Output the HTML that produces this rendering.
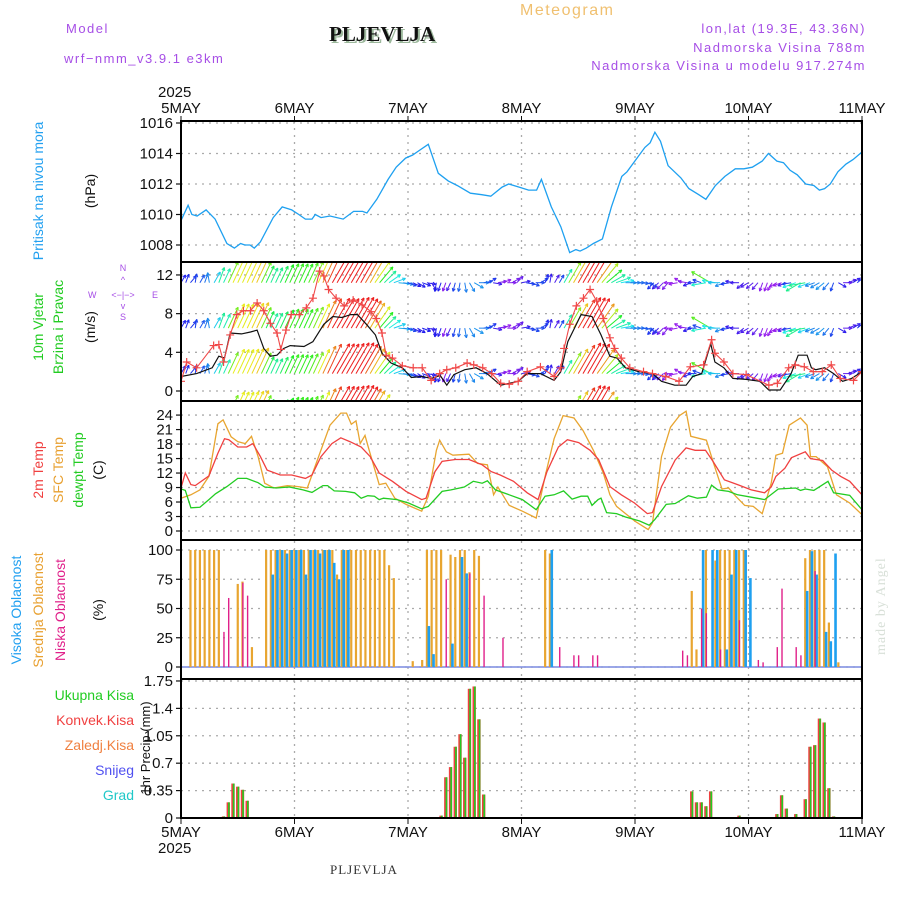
<!DOCTYPE html>
<html><head><meta charset="utf-8">
<style>
html,body{margin:0;padding:0;background:#fff;}
svg{display:block;font-family:"Liberation Sans",sans-serif;}
.p{fill:#a64ee6;font-size:13px;letter-spacing:1.5px;}
.tick{font-size:15px;fill:#111;}
</style></head>
<body>
<svg id="chart" width="900" height="900" viewBox="0 0 900 900" xmlns="http://www.w3.org/2000/svg">
<g id="titles">
<text class="p" x="66" y="33">Model</text>
<text class="p" x="64" y="63">wrf−nmm_v3.9.1 e3km</text>
<text x="331" y="43" font-family="Liberation Serif" font-weight="bold" font-size="21" fill="#9cb89c">PLJEVLJA</text>
<text x="329" y="41" font-family="Liberation Serif" font-weight="bold" font-size="21" fill="#111">PLJEVLJA</text>
<text x="520" y="15" font-size="16" fill="#f0c070" letter-spacing="1.5">Meteogram</text>
<text class="p" x="866" y="33" text-anchor="end">lon,lat (19.3E, 43.36N)</text>
<text class="p" x="866" y="52" text-anchor="end">Nadmorska Visina 788m</text>
<text class="p" x="866" y="70" text-anchor="end">Nadmorska Visina u modelu 917.274m</text>
<text x="330" y="874" font-family="Liberation Serif" font-size="13" fill="#333" letter-spacing="1">PLJEVLJA</text>
<text transform="translate(885,655) rotate(-90)" font-family="Liberation Serif" font-size="14" fill="#d8e0d8" letter-spacing="1">made by Angel</text>
</g>
<g id="ylabels" font-size="14">
<text transform="translate(43,191) rotate(-90)" text-anchor="middle" fill="#22a0f0">Pritisak na nivou mora</text>
<text transform="translate(95,191) rotate(-90)" text-anchor="middle" fill="#111">(hPa)</text>
<text transform="translate(43,327) rotate(-90)" text-anchor="middle" fill="#22cc22">10m Vjetar</text>
<text transform="translate(63,327) rotate(-90)" text-anchor="middle" fill="#22cc22">Brzina i Pravac</text>
<text transform="translate(95,327) rotate(-90)" text-anchor="middle" fill="#111">(m/s)</text>
<g fill="#a64ee6" font-size="9">
<text x="123" y="271" text-anchor="middle">N</text><text x="123" y="320" text-anchor="middle">S</text>
<text x="88" y="298">W</text><text x="152" y="298">E</text>
<text x="123" y="298" text-anchor="middle">&lt;−|−&gt;</text>
<text x="123" y="283" text-anchor="middle">^</text><text x="123" y="309" text-anchor="middle">v</text>
</g>
<text transform="translate(43,470) rotate(-90)" text-anchor="middle" fill="#f04040">2m Temp</text>
<text transform="translate(63,470) rotate(-90)" text-anchor="middle" fill="#e8a030">SFC Temp</text>
<text transform="translate(83,470) rotate(-90)" text-anchor="middle" fill="#22cc22">dewpt Temp</text>
<text transform="translate(103,470) rotate(-90)" text-anchor="middle" fill="#111">(C)</text>
<text transform="translate(21,610) rotate(-90)" text-anchor="middle" fill="#22a0f0">Visoka Oblacnost</text>
<text transform="translate(43,610) rotate(-90)" text-anchor="middle" fill="#e8a030">Srednja Oblacnost</text>
<text transform="translate(65,610) rotate(-90)" text-anchor="middle" fill="#e0208a">Niska Oblacnost</text>
<text transform="translate(103,610) rotate(-90)" text-anchor="middle" fill="#111">(%)</text>
<text transform="translate(150,748) rotate(-90)" text-anchor="middle" font-size="13" fill="#111">1hr Precip (mm)</text>
<text x="134" y="700" text-anchor="end" fill="#22cc22">Ukupna Kisa</text>
<text x="134" y="725" text-anchor="end" fill="#f04040">Konvek.Kisa</text>
<text x="134" y="750" text-anchor="end" fill="#f08040">Zaledj.Kisa</text>
<text x="134" y="775" text-anchor="end" fill="#5050f0">Snijeg</text>
<text x="134" y="800" text-anchor="end" fill="#20c8c8">Grad</text>
</g>
<g id="plot"></g>
</svg>
<script>
// ---- data ----
const dayLabels=["5MAY","6MAY","7MAY","8MAY","9MAY","10MAY","11MAY"];
const presTicks=[1008,1010,1012,1014,1016];
const windTicks=[0,4,8,12];
const tempTicks=[0,3,6,9,12,15,18,21,24];
const cloudTicks=[0,25,50,75,100];
const precipTicks=[0,0.35,0.7,1.05,1.4,1.75];
const presHours=[0,1.5,2.3,3.4,5.3,7.2,9.7,11.3,12.6,13.5,14.6,15.5,16.8,19.5,21.4,23.4,24.9,26.3,27.7,28.4,29.6,31.5,34.3,36.5,38.4,39.3,41.4,43.8,45.5,47.5,49,50.4,52.3,54.4,56.5,58.4,61.2,63.6,65.5,67.9,69.3,71.5,73.5,75.2,76.2,78.3,80.3,82.2,83.5,84.4,85.7,87.2,89.1,91,93.2,94.3,96.2,98.1,99.2,100.2,101.4,103,105.7,107.4,109.5,111,113,115,117.2,119,120.8,122.9,124.2,126,127.4,128.8,130.3,132.1,133.8,135,136.1,137.3,138.9,140.6,142.1,144];
const presVals=[1009.6,1010.6,1010.0,1009.9,1010.3,1009.7,1008.1,1007.8,1008.1,1008.0,1008.0,1007.8,1008.2,1009.8,1010.5,1010.3,1010.0,1009.7,1009.7,1010.0,1009.8,1009.9,1009.7,1010.2,1010.2,1010.1,1011.0,1012.3,1013.1,1013.7,1013.9,1014.2,1014.6,1012.7,1012.2,1011.9,1011.4,1011.3,1011.2,1011.8,1012.0,1011.8,1011.6,1011.6,1012.3,1010.5,1009.2,1007.5,1007.7,1007.6,1007.8,1008.1,1008.4,1010.5,1012.5,1012.8,1013.6,1014.4,1014.7,1015.4,1014.8,1013.2,1012.4,1011.7,1011.3,1011.0,1011.9,1012.5,1013.0,1013.0,1013.1,1013.5,1014.0,1013.5,1013.4,1012.9,1012.6,1012.0,1011.9,1011.6,1011.7,1012.0,1012.8,1013.3,1013.6,1014.1];
const t2Hours=[0,0.9,2.1,3,5.9,7.8,9.2,10.1,12,13.9,15.2,16.8,18.2,21,23.4,26.3,27.7,29.6,31.9,33.8,35.7,38.1,40,41.9,44.7,47.6,50.9,51.8,53.7,55.2,58,60.9,63.7,65.6,67.5,70.3,73.2,75.5,77.4,79.8,81.7,84.1,86.5,88.3,90.7,93.1,95.9,98.6,99.7,101.6,104.5,106.8,108.7,110.9,112.5,114.9,117.7,120.6,123.4,124.8,125.8,127.7,129.1,132,133.1,135.7,137.6,139.5,141.4,144];
const t2Vals=[8.9,12,9.6,9.4,11.4,16.1,19.1,18.9,17.4,17.4,18.1,15.4,12.6,11.6,11.6,10.9,11.6,15.4,18.1,19.3,18.5,17.4,15.4,12,10.3,8.2,6.5,6.8,12.3,14.4,14.8,14.8,13.7,12.3,11.6,10.3,7.9,6.5,12.3,17.4,18.9,18.3,16.7,14.8,9.2,7.5,5.8,3.6,3.8,9.2,14.7,17.2,16.7,16.7,14.4,10.6,9.6,8.5,7.9,9.1,11.3,13,15.2,16.4,15,14.6,12.6,11.3,10.3,7.5];
const sfcHours=[0,2.1,4,5.9,7.8,8.9,10.6,12,13.6,14.9,16.3,17.7,19.6,22.5,24.8,26.7,29.1,31.5,33.8,35,36,37,37.9,38.9,39.8,41.9,43.3,45.2,47.6,50.9,52.3,54,54.7,56.1,57.5,60.9,62.7,64.8,66.1,67,69.4,72.2,75.1,77,78.9,80.8,83.1,85,87.2,89.3,90.7,92.1,95.9,98.8,99.7,101.6,103.5,105.4,106.8,107.8,111.1,112.5,114.4,115.8,117.3,119.2,121,122.9,124.8,125.8,127.2,128.6,131,132.4,133.1,134.3,136.7,138.6,141.4,144];
const sfcVals=[6.8,7.5,8.5,11.3,22.2,23,19.5,18.5,18.1,19.6,15.4,9.9,8.9,9.4,9.2,8.9,15.4,21.9,24.4,24.4,22.1,22.8,18.1,19.8,16.7,9.6,9.9,6.8,5.5,4.1,7.2,16.7,18.8,16.4,15.7,15.9,14,13.7,7.5,9.1,5.3,4.1,2.7,11.3,19.1,23.9,23.4,20.8,16.7,12,7.5,5.1,2.1,0.3,1.7,15.4,21.5,23.9,24.8,19.6,18.8,14.4,8.7,8.9,7.2,5.3,5.1,3.6,9.9,15.7,16.1,21.9,23.4,21.9,15.4,15.4,13.3,7.5,5.8,3.4];
const dewHours=[0,0.9,2.1,4,5.9,7.3,9.7,12,13.9,16.3,17.7,20.1,22.9,25.8,27.7,30,31,32.4,34.8,36.7,38.1,39.5,40.9,41.9,42.8,45.7,48.1,50.9,52.3,55.2,57.1,59.9,61.8,63.7,64.8,66.5,69.4,72.2,75.1,77,78.9,80.9,82.7,84.6,86,86.9,88.2,88.8,90,92.1,94,96.9,99,100.2,102.6,104.5,107.3,109.2,111.1,112.2,113.5,115.8,117.7,120.6,123.4,126.3,130,131,132,133.8,136.8,138,141.4,144];
const dewVals=[8.7,8.4,4.8,4.9,6.5,7.7,9.2,10.9,10.9,10,9.1,8.9,9.1,8.5,8,9.4,9.4,8.3,8.2,7.9,6.8,7.3,7.2,6.5,6.8,6.5,5.8,4.6,5.1,8.2,8.5,9.1,10.3,9.9,10.4,8.5,7.5,6.5,4.4,7.2,7.5,8.3,6.6,7.2,7.2,5.3,6.5,6.8,3.8,3.6,2.9,2.1,1.2,2.4,5.5,5.7,7.3,6.8,7,9.5,8.5,8.2,7.5,7,6.5,8.7,8.9,8.4,8.7,8.4,10.3,7.9,7.4,4.4];
const spdHours=[0,3.3,6.6,8,9.2,10.4,12.8,14.7,16.1,17.5,18.9,20.3,21.7,23.1,26,27.9,30.2,32.1,34,35.9,37.3,39.2,41.1,42.5,44.4,46.8,48.7,51,52.9,54.8,56.2,57.7,60,62.4,64.7,67.6,69.4,71.3,73.2,76,78.9,80.3,81.8,83.2,84.6,86.9,88.8,90.7,92.2,94,96.8,99.7,101.6,104.4,106.8,108.2,110.1,112,112.9,114.8,116.7,119.5,122.4,124.3,126.7,129,130.5,132.4,133.3,134.2,136.1,138,139.9,141.8,144];
const spdVals=[1.5,1.8,2.4,3.6,3.4,6,5.9,6.1,6.3,4.4,3.6,3.7,4.4,4.7,4.6,5.1,6.9,7.7,7.6,7.9,7.9,6.9,5.8,3.9,2.9,2.4,1.4,1.5,1.3,1.6,0.6,1.7,2.2,2.4,1.8,0.6,0.8,1,1.8,1.8,1.1,2,5.1,6.5,7.9,7.7,5.8,3.6,3.4,2.4,2,1.8,1,0.6,0.6,1.5,1.8,4.9,3,2.4,1.3,1.2,1,0.1,0.1,1.8,3.7,3.7,2.4,2.2,2.4,1.8,1,1.3,2];
const gustHours=[0,1.2,3.3,6.9,8,9,10.4,11.8,13.2,14.7,16.1,17.5,18.9,20.3,21.1,22.2,23.3,25,26.5,27.9,29.3,30.2,31.2,32.8,34.5,36.4,38.3,40.2,41.3,42.5,43.4,44.7,46.8,49.1,51,52.9,54.7,56.2,58.1,60.5,61.9,63.8,65.7,67.6,69.4,71.3,73.2,76,78.9,80.3,81,82.2,83.6,85.1,86.5,87.9,89.3,90.7,91.7,93.1,94.9,97.8,99.7,102.5,105.3,107.7,110.5,112.2,112.9,114.8,116.7,119.5,124.3,126.1,128.5,129.9,131.8,133.7,135.6,137.5,139.4,142.2,144];
const gustVals=[1,3,2.4,4.7,4.8,3,5.8,7.9,8.3,8.3,9.1,8.3,7,6,4.3,6.3,7.9,7.9,8.6,9.6,12.4,11.9,10.5,9.6,8.8,9.4,8.9,8.2,7.5,6,3.7,3.4,2.6,2.4,2.4,1.1,1.8,2.2,2.4,2.9,2.7,2.4,1.8,0.8,0.7,1,2,2.5,1.5,2.4,4.4,6.9,8.8,9.6,10.5,9.3,7.5,5.5,4.4,3.4,2.4,2,1.8,1.5,1,2.5,2.7,5.3,3.9,3,1.8,1.7,0.6,0.8,2.4,2.7,2.5,2,2,2.7,1.3,1.1,2];
// wind direction (degrees the arrow points toward), one per hour 0..144
const windDir=[30,20,40,10,30,20,350,30,20,25,25,25,25,25,25,25,25,25,25,25,25,25,25,25,25,25,25,25,25,25,25,25,30,30,30,30,30,30,30,30,30,35,40,45,55,70,95,100,110,115,120,110,100,150,190,200,200,205,195,190,170,150,120,90,80,60,100,80,70,90,60,45,80,100,110,90,60,20,10,30,30,30,30,30,30,30,30,30,35,40,50,60,70,80,90,90,90,95,100,120,225,225,225,220,270,260,300,280,250,270,290,260,300,280,270,250,260,280,270,230,240,230,220,200,200,210,240,250,250,260,250,240,260,250,250,240,230,220,200,120,90,70,60,50,45];
const midHours=[2,3,4,5,6,7,8,12,13,15,18,19,20,21,22,23,24,25,26,27,28,29,30,31,32,33,34,35,36,37,38,39,40,41,42,43,44,45,49,51,52,53,54,55,57,58,59,60,61,62,63,77,78,108,109,111,113,114,115,116,117,118,119,132,133,134,135,136,137,139];
const midVals=[100,100,100,100,100,100,100,71,73,17,100,100,100,100,100,100,100,100,100,100,100,100,100,100,100,79,100,100,100,100,100,100,100,100,100,100,87,76,5,6,100,100,100,100,96,94,100,100,81,100,95,100,97,65,15,100,91,100,100,100,100,100,100,93,100,100,100,100,38,4];
const highHours=[19,20,21,22,23,24,25,26,27,28,29,30,31,32,33,34,35,52,53,57,59,60,78,110,112,113,115,116,117,119,120,132,133,134,136,137,138];
const highVals=[79,100,100,97,100,100,100,79,100,100,97,100,100,89,75,100,100,35,11,20,94,80,100,100,100,100,15,79,100,100,76,65,99,79,30,22,97];
const lowHours=[9,10,13,14,56,61,64,68,80,83,84,87,88,106,107,110,111,114,118,122,123,126,127,130,131,134];
const lowVals=[30,59,72,61,75,80,61,25,17,10,10,10,10,14,10,50,46,15,40,6,4,17,67,17,10,82];
const rainHours=[9,10,11,12,13,14,55,56,57,58,59,60,61,62,63,64,108,109,110,111,112,118,126,127,128,130,132,133,134,135,136,137,138];
const rainVals=[0.02,0.2,0.44,0.4,0.36,0.22,0.03,0.52,0.65,0.91,1.07,0.77,1.65,1.68,1.26,0.3,0.34,0.2,0.2,0.15,0.34,0.03,0.05,0.29,0.12,0.05,0.24,0.91,0.93,1.27,1.22,0.38,0.02];

// ---- scales ----
const X0=181,X1=862,HOURS=144;
const X=h=>X0+h*(X1-X0)/HOURS;
const Yp=v=>245-(v-1008)*15.25;
const Yw=v=>391-v*9.67;
const Yt=v=>531-v*4.83;
const Yc=v=>667-v*1.17;
const Yr=v=>818-v*78.3;
const panels=[{y0:121,y1:262,name:'pressure'},{y0:262,y1:401,name:'wind'},{y0:401,y1:540,name:'temperature'},{y0:540,y1:679,name:'cloud'},{y0:679,y1:818,name:'precip'}];

const NS='http://www.w3.org/2000/svg';
const root=document.getElementById('plot');
function mk(tag,attrs,parent){const e=document.createElementNS(NS,tag);for(const k in attrs)e.setAttribute(k,attrs[k]);(parent||root).appendChild(e);return e;}

const defs=mk('defs',{});
panels.forEach((p,i)=>{const c=mk('clipPath',{id:'clip'+i},defs);mk('rect',{x:X0,y:p.y0,width:X1-X0,height:p.y1-p.y0},c);});

function hgrid(ticks,scale,fmt,pi){
  const g=mk('g',{});
  
  
  ticks.forEach(t=>{
    const y=scale(t);
    mk('line',{x1:X0,x2:X1,y1:y,y2:y,stroke:'#aaa','stroke-width':1.3,'stroke-dasharray':'2,5'},g);
    mk('line',{x1:X0-5,x2:X0,y1:y,y2:y,stroke:'#111','stroke-width':1.2},g);
    const tx=mk('text',{x:X0-8,y:y+5,'text-anchor':'end','class':'tick'},g);
    tx.textContent=fmt(t);
  });
}
hgrid(presTicks,Yp,String,0);
hgrid(windTicks,Yw,String,1);
hgrid(tempTicks,Yt,String,2);
hgrid(cloudTicks,Yc,String,3);
hgrid(precipTicks,Yr,String,4);
const vg=mk('g',{});


dayLabels.forEach((d,i)=>{
  if(i===0||i===dayLabels.length-1)return;
  const x=X(i*24);
  mk('line',{x1:x,x2:x,y1:121,y2:818,stroke:'#aaa','stroke-width':1.3,'stroke-dasharray':'2,5'},vg);
});
const xl=mk('g',{});


dayLabels.forEach((d,i)=>{
  const x=X(i*24);
  let t=mk('text',{x:x,y:113,'text-anchor':'middle','class':'tick'},xl);t.textContent=d;
  t=mk('text',{x:x,y:837,'text-anchor':'middle','class':'tick'},xl);t.textContent=d;
  mk('line',{x1:x,x2:x,y1:116,y2:121,stroke:'#111'},xl);
  mk('line',{x1:x,x2:x,y1:818,y2:824,stroke:'#111'},xl);
});
let yr=mk('text',{x:158,y:97,'class':'tick'},xl);yr.textContent='2025';
yr=mk('text',{x:158,y:853,'class':'tick'},xl);yr.textContent='2025';

function line(hours,vals,scale,color,name,pi,w){
  const d=hours.map((h,i)=>(i?'L':'M')+X(h).toFixed(1)+','+scale(vals[i]).toFixed(1)).join('');
  const p=mk('path',{d:d,fill:'none',stroke:color,'stroke-width':w||1.3,'clip-path':'url(#clip'+pi+')'});
  
  
  return p;
}
line(presHours,presVals,Yp,'#1ea0f0','pressure-line',0);

function interp(hs,vs,h){for(let i=1;i<hs.length;i++){if(h<=hs[i]){const f=(h-hs[i-1])/(hs[i]-hs[i-1]);return vs[i-1]+f*(vs[i]-vs[i-1]);}}return vs[vs.length-1];}
const wg=mk('g',{'clip-path':'url(#clip1)'});


[11.2,6.5,1.8,-2.6].forEach(base=>{
  windDir.forEach((dir,h)=>{
    const s=interp(spdHours,spdVals,h);
    const len=Math.max(9,4.5*s);
    const a=dir*Math.PI/180;
    const x0=X(h),y0=Yw(base);
    const x1=x0+Math.sin(a)*len,y1=y0-Math.cos(a)*len;
    const hue=Math.max(0,Math.min(275,300-40*s));
    const col='hsl('+hue+',85%,52%)';
    const ar=mk('g',{},wg);
    
    
    mk('line',{x1:x0,y1:y0,x2:x1,y2:y1,stroke:col,'stroke-width':1},ar);
    const ha=3.5;
    [a+Math.PI-0.45,a+Math.PI+0.45].forEach(b=>{
      mk('line',{x1:x1,y1:y1,x2:x1+Math.sin(b)*ha,y2:y1-Math.cos(b)*ha,stroke:col,'stroke-width':1},ar);
    });
  });
});
line(spdHours,spdVals,Yw,'#111','wind-speed-line',1,1.2);
line(gustHours,gustVals,Yw,'#f04848','wind-gust-line',1,1.1);
const gg=mk('g',{'clip-path':'url(#clip1)'});


gustHours.forEach((h,i)=>{
  const x=X(h),y=Yw(gustVals[i]);
  mk('path',{d:`M${x-4},${y}H${x+4}M${x},${y-4}V${y+4}`,stroke:'#f04848','stroke-width':1.2},gg);
});

line(sfcHours,sfcVals,Yt,'#e8a530','sfc-temp-line',2);
line(t2Hours,t2Vals,Yt,'#f04040','temp-2m-line',2);
line(dewHours,dewVals,Yt,'#22cc22','dewpoint-line',2);

mk('line',{x1:X0,x2:X1,y1:667,y2:667,stroke:'#7a8ae0','stroke-width':1.5});
function bars(hours,vals,scale,color,w,off,name,pi){
  const g=mk('g',{'clip-path':'url(#clip'+pi+')'});
  
  
  hours.forEach((h,i)=>{
    const y=scale(vals[i]);
    const base=scale(0);
    const r=mk('rect',{x:X(h)+off,y:y,width:w,height:Math.max(0,base-y),fill:color},g);
    
    
  });
}
bars(midHours,midVals,Yc,'#e8a530',2.2,-1.1,'mid-cloud',3);
bars(highHours,highVals,Yc,'#1ea0f0',2.6,0.6,'high-cloud',3);
bars(lowHours,lowVals,Yc,'#e0208a',1.4,-0.3,'low-cloud',3);

bars(rainHours,rainVals,Yr,'#f04040',3.4,-1.7,'convective-rain',4);
bars(rainHours,rainVals,Yr,'#22cc22',1.6,-0.2,'total-rain',4);

panels.forEach(p=>{
  const r=mk('rect',{x:X0,y:p.y0,width:X1-X0,height:p.y1-p.y0,fill:'none',stroke:'#000','stroke-width':2});
  
  
});
</script>
</body></html>
